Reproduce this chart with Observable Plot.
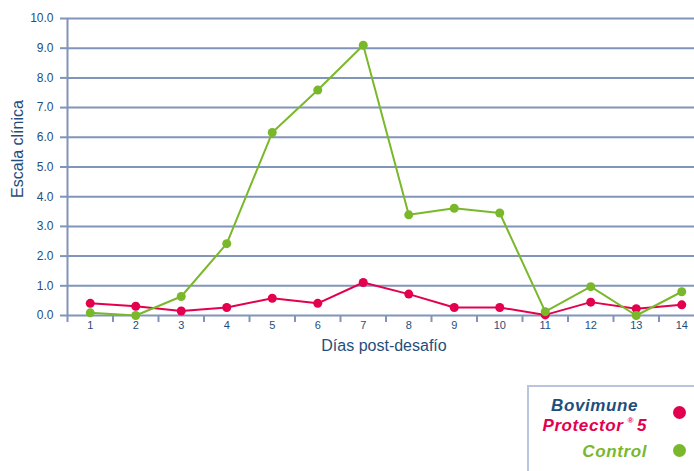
<!DOCTYPE html>
<html>
<head>
<meta charset="utf-8">
<script src="https://cdn.jsdelivr.net/npm/d3@7"></script>
<script src="https://cdn.jsdelivr.net/npm/@observablehq/plot@0.6"></script>
<style>
  html, body { margin: 0; padding: 0; background: #fff; overflow: hidden; }
  #wrap { position: relative; width: 694px; height: 471px; overflow: hidden; }
  #legend { position: absolute; left: 527px; top: 385px; width: 200px; height: 120px;
    border-left: 2px solid #b9c5dd; border-top: 2px solid #b9c5dd; box-sizing: border-box;
    font-family: "Liberation Sans", Arial, sans-serif; font-weight: bold; font-style: italic; font-size: 17px; }
  .lt { position: absolute; white-space: nowrap; line-height: 1; letter-spacing: 0.6px; }
  .dot { position: absolute; left: 144px; width: 13px; height: 13px; border-radius: 50%; }
  sup { font-size: 8px; vertical-align: 8px; margin: 0 3px 0 4px; }
</style>
</head>
<body>
<div id="wrap">
  <div id="chart"></div>
  <div id="legend"></div>
</div>
<script>
const days = [1, 2, 3, 4, 5, 6, 7, 8, 9, 10, 11, 12, 13, 14];
const bovimune = [0.41, 0.31, 0.15, 0.27, 0.58, 0.41, 1.11, 0.72, 0.27, 0.27, 0.02, 0.45, 0.23, 0.36];
const control = [0.09, 0.0, 0.64, 2.42, 6.16, 7.59, 9.1, 3.39, 3.61, 3.45, 0.13, 0.97, 0.0, 0.80];
const yTicks = [0, 1, 2, 3, 4, 5, 6, 7, 8, 9, 10];
const bandEdges = [0.5, 1.5, 2.5, 3.5, 4.5, 5.5, 6.5, 7.5, 8.5, 9.5, 10.5, 11.5, 12.5, 13.5];
const xTitle = "Días post-desafío";
const yTitle = "Escala clínica";

const gridColor = "#8194b9";
const textColor = "#1f4e7d";
const redColor = "#e3004f";
const greenColor = "#7ab82b";

const redData = days.map((d, i) => ({day: d, value: bovimune[i]}));
const greenData = days.map((d, i) => ({day: d, value: control[i]}));

const chart = Plot.plot({
  width: 694,
  height: 365,
  marginLeft: 67,
  marginRight: 0,
  marginTop: 18,
  marginBottom: 50,
  x: {type: "linear", domain: [0.5, 14.5], range: [67, 704]},
  y: {domain: [0, 10]},
  style: {fontFamily: "'Liberation Sans', Arial, sans-serif", color: textColor, background: "transparent"},
  marks: [
    Plot.ruleY(yTicks, {stroke: gridColor, strokeWidth: 2}),
    Plot.ruleX([0.5], {y1: 0, y2: 10, stroke: gridColor, strokeWidth: 2}),
    Plot.axisY({ticks: yTicks, tickSize: 7, tickPadding: 7, tickFormat: d => d.toFixed(1), fontSize: 12, stroke: gridColor, strokeWidth: 2, label: null}),
    Plot.axisX({ticks: bandEdges, tickSize: 7, tickFormat: () => "", stroke: gridColor, strokeWidth: 2, label: null}),
    Plot.axisX({ticks: days, tickSize: 0, tickPadding: 6, fontSize: 11, tickFormat: d => String(d), label: null}),
    Plot.line(redData, {x: "day", y: "value", stroke: redColor, strokeWidth: 2}),
    Plot.dot(redData, {x: "day", y: "value", fill: redColor, r: 4.5}),
    Plot.line(greenData, {x: "day", y: "value", stroke: greenColor, strokeWidth: 2}),
    Plot.dot(greenData, {x: "day", y: "value", fill: greenColor, r: 4.5}),
    Plot.text([yTitle], {frameAnchor: "left", textAnchor: "middle", rotate: -90, dx: -50, dy: -18, fontSize: 16, fill: textColor}),
    Plot.text([xTitle], {frameAnchor: "bottom", textAnchor: "middle", dy: 35, dx: 3, fontSize: 16, fill: textColor})
  ]
});
document.getElementById("chart").appendChild(chart);

const legend = document.getElementById("legend");
legend.innerHTML = `
  <div class="lt" style="top:10px;right:89px;color:${textColor}">Bovimune</div>
  <div class="lt" style="top:30px;right:80px;color:${redColor}">Protector<sup>®</sup>5</div>
  <div class="lt" style="top:56px;right:80px;color:${greenColor}">Control</div>
  <div class="dot" style="top:19px;background:${redColor}"></div>
  <div class="dot" style="top:57px;background:${greenColor}"></div>
`;
</script>
</body>
</html>
